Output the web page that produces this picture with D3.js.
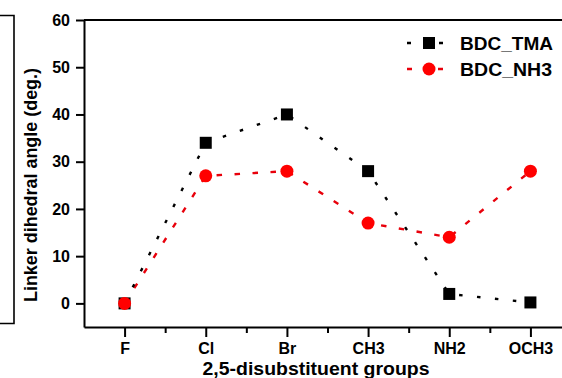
<!DOCTYPE html>
<html><head><meta charset="utf-8">
<script src="https://cdn.jsdelivr.net/npm/d3@7"></script>
<style>body{margin:0;background:#fff}svg{display:block}text{font-family:"Liberation Sans",Arial,sans-serif;font-weight:bold}</style>
</head><body>
<svg id="c" width="562" height="378"></svg>
<script>
const categories = ["F","Cl","Br","CH3","NH2","OCH3"];
const tmaValues = [0, 34, 40, 28, 2, 0.2];
const nh3Values = [0, 27, 28, 17, 14, 28];
const yTicks = [0,10,20,30,40,50,60];
const seriesNames = ["BDC_TMA","BDC_NH3"];

const svg = d3.select("#c");
const x = d3.scaleLinear().domain([-0.5, 5.5]).range([84, 571]);
const y = d3.scaleLinear().domain([-5, 60]).range([327, 20]);

// partial neighbouring panel frame on the left
svg.append("path").attr("d","M0,15.5H14V323.5H0").attr("fill","none").attr("stroke","#000").attr("stroke-width",1.6);

// frame top
svg.append("line").attr("x1",84).attr("x2",562).attr("y1",20).attr("y2",20).attr("stroke","#000").attr("stroke-width",2);

// axes
const gx = svg.append("g").attr("transform","translate(0,327)")
  .call(d3.axisBottom(x).tickValues(d3.range(categories.length)).tickFormat(i=>categories[i]).tickSize(10).tickPadding(6).tickSizeOuter(0));
const gxm = svg.append("g").attr("transform","translate(0,327)")
  .call(d3.axisBottom(x).tickValues(d3.range(categories.length).map(i=>i+0.5)).tickFormat("").tickSize(6).tickSizeOuter(0));
gxm.select(".domain").remove();
const gy = svg.append("g").attr("transform","translate(84,0)")
  .call(d3.axisLeft(y).tickValues(yTicks).tickSize(8).tickPadding(6).tickSizeOuter(0));
[gx,gxm,gy].forEach(g=>{
  g.selectAll(".domain").attr("stroke-width",2);
  g.selectAll(".tick line").attr("stroke-width",2);
  g.selectAll("text").style("font-size","16px").attr("fill","#000");
});

// titles
svg.append("text").attr("x",316).attr("y",375).attr("text-anchor","middle").style("font-size","17.5px")
  .attr("textLength",227).attr("lengthAdjust","spacingAndGlyphs").text("2,5-disubstituent groups");
svg.append("text").attr("transform","translate(37,185) rotate(-90)").attr("text-anchor","middle").style("font-size","18px")
  .attr("textLength",234).attr("lengthAdjust","spacingAndGlyphs").text("Linker dihedral angle (deg.)");

// lines
const line = d3.line().x((d,i)=>x(i)).y(d=>y(d));
svg.append("path").datum(nh3Values).attr("d",line).attr("fill","none").attr("stroke","#e8000b").attr("stroke-width",2.4).attr("stroke-dasharray","5.5,12.5");
svg.append("path").datum(tmaValues).attr("d",line).attr("fill","none").attr("stroke","#000").attr("stroke-width",2.4).attr("stroke-dasharray","3.5,14.5");

// markers
svg.selectAll(".sq").data(tmaValues).enter().append("rect")
  .attr("x",(d,i)=>x(i)-6).attr("y",d=>y(d)-6).attr("width",12).attr("height",12).attr("fill","#000");
svg.selectAll(".ci").data(nh3Values).enter().append("circle")
  .attr("cx",(d,i)=>x(i)).attr("cy",d=>y(d)).attr("r",6.5).attr("fill","#f00");

// legend
const lg = [{name:seriesNames[0],c:"#000",dash:"4,28",m:"sq",yy:43,w:93},{name:seriesNames[1],c:"#e8000b",dash:"5,26",m:"ci",yy:69,w:92}];
lg.forEach(l=>{
  svg.append("line").attr("x1",407).attr("x2",443).attr("y1",l.yy).attr("y2",l.yy).attr("stroke",l.c).attr("stroke-width",2.4).attr("stroke-dasharray",l.dash);
  if(l.m==="sq") svg.append("rect").attr("x",423).attr("y",l.yy-6).attr("width",12).attr("height",12).attr("fill","#000");
  else svg.append("circle").attr("cx",429).attr("cy",l.yy).attr("r",6.5).attr("fill","#f00");
  svg.append("text").attr("x",460).attr("y",l.yy+6.5).style("font-size","18px")
    .attr("textLength",l.w).attr("lengthAdjust","spacingAndGlyphs").text(l.name);
});
</script>
</body></html>
